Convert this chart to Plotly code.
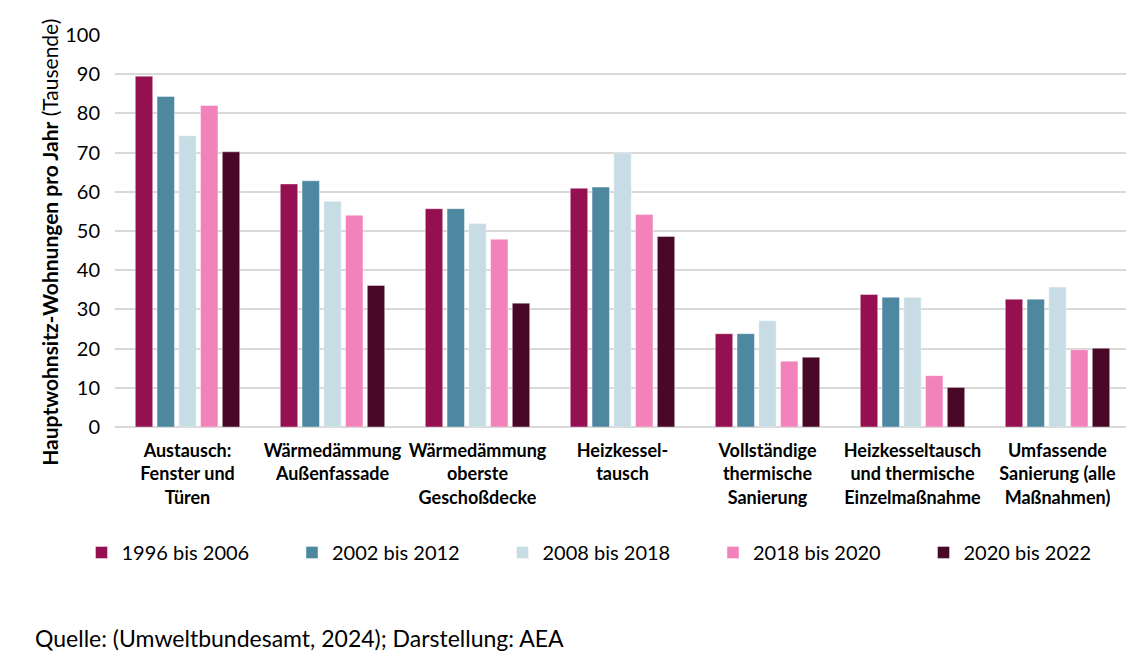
import plotly.graph_objects as go

categories = [
    "Austausch:<br>Fenster und<br>Türen",
    "Wärmedämmung<br>Außenfassade",
    "Wärmedämmung<br>oberste<br>Geschoßdecke",
    "Heizkessel-<br>tausch",
    "Vollständige<br>thermische<br>Sanierung",
    "Heizkesseltausch<br>und thermische<br>Einzelmaßnahme",
    "Umfassende<br>Sanierung (alle<br>Maßnahmen)",
]
series_names = ["1996 bis 2006", "2002 bis 2012", "2008 bis 2018", "2018 bis 2020", "2020 bis 2022"]
v1996 = [89.5, 62.0, 55.7, 60.9, 23.8, 33.8, 32.6]
v2002 = [84.3, 62.8, 55.7, 61.2, 23.8, 33.1, 32.6]
v2008 = [74.3, 57.6, 51.9, 69.9, 27.1, 33.1, 35.7]
v2018 = [82.0, 54.0, 47.9, 54.2, 16.8, 13.1, 19.7]
v2020 = [70.2, 36.1, 31.6, 48.6, 17.8, 10.1, 20.1]
colors = ["#951050", "#4E87A0", "#C8DCE5", "#F282BA", "#4A0828"]

fig = go.Figure()
for name, vals, col in zip(series_names, [v1996, v2002, v2008, v2018, v2020], colors):
    fig.add_trace(go.Bar(x=categories, y=vals, name=name, marker_color=col,
                         marker_line=dict(color="rgba(255,255,255,0.4)", width=1)))

fig.update_layout(
    width=1134, height=667,
    barmode="group", bargap=0.25, bargroupgap=0.2,
    plot_bgcolor="white", paper_bgcolor="white",
    margin=dict(l=107, r=12, t=27, b=248, autoexpand=False),
    font=dict(family="Lato", color="#000000"),
    yaxis=dict(range=[0, 100], dtick=10, showgrid=True, gridcolor="#D9D9D9", gridwidth=1.5,
               zeroline=True, zerolinecolor="#D9D9D9", zerolinewidth=1.5,
               tickfont=dict(size=20), ticklabelstandoff=14, automargin=False),
    xaxis=dict(tickfont=dict(size=18, family="Lato"), tickangle=0, ticklabelstandoff=11,
               automargin=False,
               tickvals=categories,
               ticktext=["<b>" + c.replace("<br>", "</b><br><b>") + "</b>" for c in categories]),
    legend=dict(orientation="h", x=-0.033, y=-0.32, xanchor="left", yanchor="middle",
                font=dict(size=20), entrywidth=165.5, entrywidthmode="pixels",
                itemwidth=30, tracegroupgap=0),
    annotations=[
        dict(text="<b>Hauptwohnsitz-Wohnungen pro Jahr</b> (Tausende)",
             x=-0.064, y=0.47, xref="paper", yref="paper", textangle=-90,
             xanchor="center", yanchor="middle", showarrow=False,
             font=dict(size=21)),
        dict(text="Quelle: (Umweltbundesamt, 2024); Darstellung: AEA",
             x=-0.081, y=-0.538, xref="paper", yref="paper",
             xanchor="left", yanchor="middle", showarrow=False,
             font=dict(size=23))],
)

fig.write_html("out.html")
